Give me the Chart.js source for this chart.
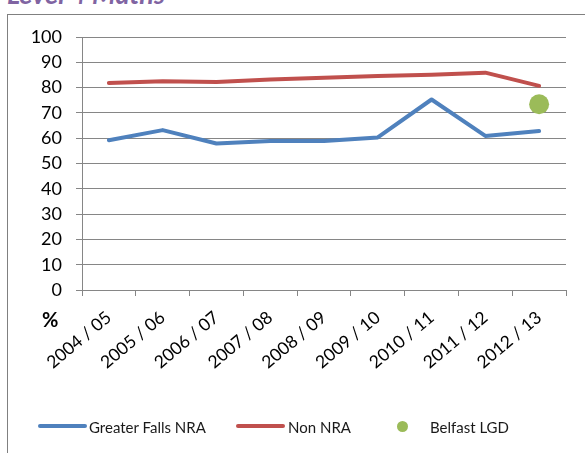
<!DOCTYPE html>
<html><head><meta charset="utf-8">
<script src="https://cdn.jsdelivr.net/npm/chart.js@4/dist/chart.umd.min.js"></script>
<style>
html,body{margin:0;padding:0;background:#fff;width:585px;height:453px;overflow:hidden;font-family:Lato,sans-serif;}
#title{position:absolute;left:7px;top:-20px;font:italic bold 27px Lato;color:#8064A2;line-height:27px;white-space:nowrap;}
#frame{position:absolute;left:7px;top:14px;width:620px;height:500px;border:1px solid #808080;}
#wrap{position:absolute;left:0;top:0;width:585px;height:453px;}
#pct{position:absolute;left:42px;top:307px;font:bold 20px Lato;line-height:24px;color:#000;}
.leg{position:absolute;top:418px;font:15px Lato;line-height:18px;color:#1a1a1a;white-space:nowrap;}
.ln{position:absolute;top:424px;height:4px;border-radius:2px;}
.dot{position:absolute;width:11px;height:11px;border-radius:50%;}
</style>
</head><body>
<div id="frame"></div>
<div id="title">Level 4 Maths</div>
<div id="wrap"><canvas id="c" width="585" height="453"></canvas></div>
<div id="pct">%</div>
<div id="legend"></div>
<script>
const categories = ['2004 / 05','2005 / 06','2006 / 07','2007 / 08','2008 / 09','2009 / 10','2010 / 11','2011 / 12','2012 / 13'];
const greaterFallsNRA = [59.2, 63.2, 57.9, 58.9, 58.9, 60.3, 75.3, 60.9, 62.8];
const nonNRA = [81.8, 82.5, 82.2, 83.2, 83.9, 84.6, 85.1, 85.9, 80.7];
const belfastLGD = [null, null, null, null, null, null, null, null, 73.4];
const seriesNames = ['Greater Falls NRA', 'Non NRA', 'Belfast LGD'];
const seriesColors = ['#4F81BD', '#C0504D', '#9BBB59'];
const yMin = 0, yMax = 100, yStep = 10;

const gridColor = '#868686';

new Chart(document.getElementById('c'), {
  type: 'line',
  data: {
    labels: categories,
    datasets: [
      { label: seriesNames[2], data: belfastLGD, showLine: false, pointRadius: 10, pointHoverRadius: 10,
        backgroundColor: seriesColors[2], borderColor: seriesColors[2], pointBorderWidth: 0 },
      { label: seriesNames[0], data: greaterFallsNRA, borderColor: seriesColors[0], backgroundColor: seriesColors[0],
        borderWidth: 4, pointRadius: 0, tension: 0, borderJoinStyle: 'round', borderCapStyle: 'round' },
      { label: seriesNames[1], data: nonNRA, borderColor: seriesColors[1], backgroundColor: seriesColors[1],
        borderWidth: 4, pointRadius: 0, tension: 0, borderJoinStyle: 'round', borderCapStyle: 'round' }
    ]
  },
  options: {
    responsive: false,
    animation: false,
    events: [],
    layout: { padding: { left: 0, top: 37, right: 19, bottom: 63 } },
    plugins: { legend: { display: false }, tooltip: { enabled: false }, title: { display: false } },
    scales: {
      x: {
        type: 'category',
        offset: true,
        grid: { display: true, drawOnChartArea: false, drawTicks: true, tickLength: 6, offset: true, color: gridColor },
        border: { color: gridColor },
        ticks: { autoSkip: false, maxRotation: 40, minRotation: 40, padding: 11, color: '#000',
                 font: { family: 'Lato', size: 17.5 } },
        afterFit: s => { s.height = 100; }
      },
      y: {
        min: yMin, max: yMax,
        grid: { color: gridColor, tickLength: 6 },
        border: { color: gridColor },
        ticks: { stepSize: yStep, padding: 14, color: '#000', font: { family: 'Lato', size: 18 } },
        afterFit: s => { s.width = 82; }
      }
    }
  }
});

// legend (HTML)
const leg = document.getElementById('legend');
const legItems = [
  { kind: 'line', x: 38, textX: 89, i: 0 },
  { kind: 'line', x: 236, textX: 288, i: 1 },
  { kind: 'dot', x: 402, textX: 430, i: 2 }
];
legItems.forEach(it => {
  const m = document.createElement('div');
  if (it.kind === 'line') {
    m.className = 'ln'; m.style.left = it.x + 'px'; m.style.width = '49px';
  } else {
    m.className = 'dot'; m.style.left = (it.x - 5.5) + 'px'; m.style.top = (426 - 5.5) + 'px';
  }
  m.style.background = seriesColors[it.i];
  leg.appendChild(m);
  const t = document.createElement('div');
  t.className = 'leg'; t.style.left = it.textX + 'px'; t.textContent = seriesNames[it.i];
  leg.appendChild(t);
});
</script>
</body></html>
